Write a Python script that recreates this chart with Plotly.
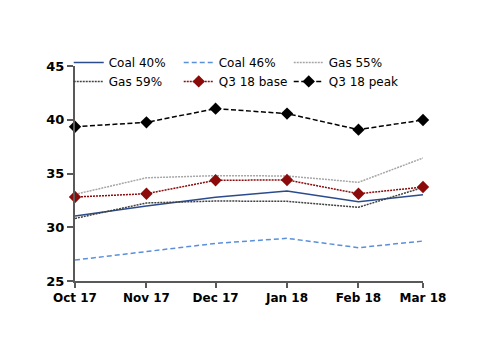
import plotly.graph_objects as go

months = ["2017-10-01", "2017-11-01", "2017-12-01", "2018-01-01", "2018-02-01", "2018-03-01"]
tick_labels = ["Oct 17", "Nov 17", "Dec 17", "Jan 18", "Feb 18", "Mar 18"]

coal_40 = [31.05, 31.98, 32.79, 33.37, 32.38, 33.03]
coal_46 = [26.95, 27.73, 28.5, 28.97, 28.1, 28.72]
gas_55 = [33.06, 34.6, 34.8, 34.77, 34.18, 36.44]
gas_59 = [30.82, 32.26, 32.44, 32.41, 31.86, 33.7]
q3_base = [32.81, 33.12, 34.37, 34.4, 33.12, 33.74]
q3_peak = [39.35, 39.76, 41.03, 40.57, 39.08, 39.98]

fig = go.Figure()

fig.add_trace(go.Scatter(x=months, y=coal_40, name="Coal 40%", mode="lines",
                         line=dict(color="#2B4C8C", width=1.5)))
fig.add_trace(go.Scatter(x=months, y=coal_46, name="Coal 46%", mode="lines",
                         line=dict(color="#5B8FDB", width=1.5, dash="5px,3px")))
fig.add_trace(go.Scatter(x=months, y=gas_55, name="Gas 55%", mode="lines",
                         line=dict(color="#A6A6A6", width=1.5, dash="2px,1px")))
fig.add_trace(go.Scatter(x=months, y=gas_59, name="Gas 59%", mode="lines",
                         line=dict(color="#404040", width=1.5, dash="2px,1px")))
fig.add_trace(go.Scatter(x=months, y=q3_base, name="Q3 18 base", mode="lines+markers",
                         line=dict(color="#8B0A0A", width=1.5, dash="2px,1px"),
                         marker=dict(symbol="diamond", size=9.5, color="#8B0A0A"),
                         cliponaxis=False))
fig.add_trace(go.Scatter(x=months, y=q3_peak, name="Q3 18 peak", mode="lines+markers",
                         line=dict(color="#000000", width=1.5, dash="5px,2.5px"),
                         marker=dict(symbol="diamond", size=9.5, color="#000000"),
                         cliponaxis=False))

fig.update_layout(
    width=500, height=354,
    margin=dict(l=75, r=77, t=66, b=73),
    paper_bgcolor="white", plot_bgcolor="white",
    font=dict(family="DejaVu Sans", size=12, color="#000000"),
    showlegend=True,
    legend=dict(orientation="h", x=-0.018, xanchor="left", y=1.084, yanchor="top",
                entrywidth=65, entrywidthmode="pixels",
                font=dict(family="DejaVu Sans", size=12, color="#000000"),
                bgcolor="rgba(0,0,0,0)", traceorder="normal"),
    xaxis=dict(type="date", range=["2017-10-01", "2018-03-01"],
               tickvals=months, ticktext=tick_labels,
               showgrid=False, zeroline=False,
               showline=True, linecolor="#595959", linewidth=2,
               ticks="outside", ticklen=5, tickwidth=1.5, tickcolor="#595959",
               tickfont=dict(family="DejaVu Sans", size=12, color="#000000", weight="bold")),
    yaxis=dict(range=[25, 45], tickvals=[25, 30, 35, 40, 45],
               showgrid=False, zeroline=False,
               showline=True, linecolor="#595959", linewidth=2,
               ticks="outside", ticklen=6, tickwidth=1.5, tickcolor="#595959",
               tickfont=dict(family="DejaVu Sans", size=13, color="#000000", weight="bold")),
)

fig.write_html("out.html")
